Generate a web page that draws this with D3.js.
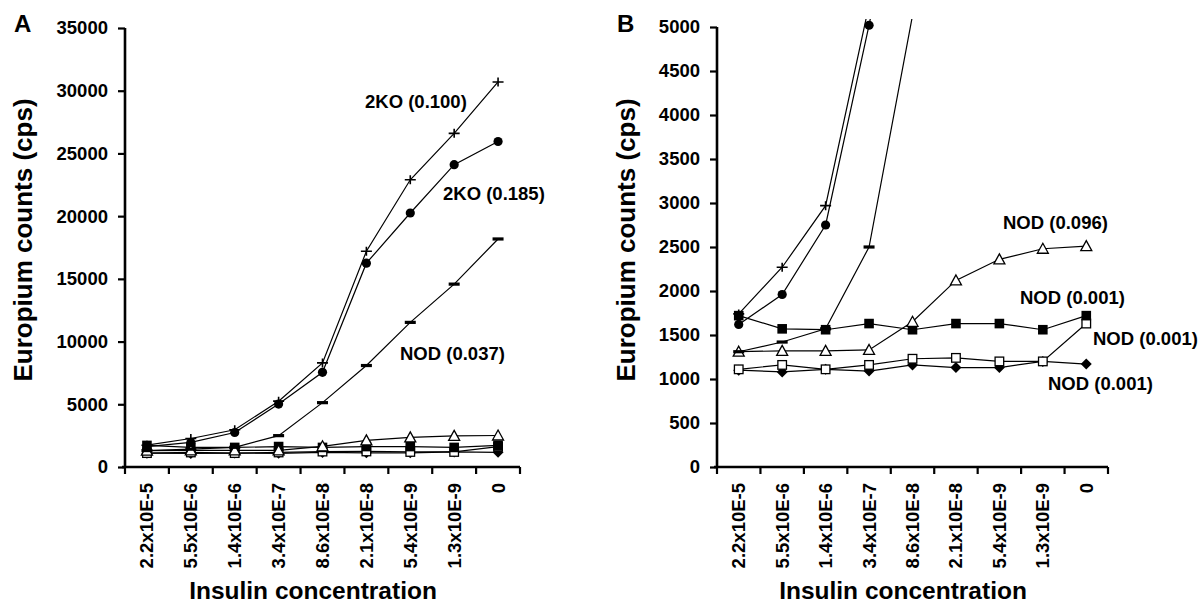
<!DOCTYPE html>
<html><head><meta charset="utf-8">
<script src="https://cdn.jsdelivr.net/npm/d3@7"></script>
<style>
body{margin:0;background:#fff;}
svg{display:block;font-family:"Liberation Sans",Arial,sans-serif;font-weight:bold;}
</style></head>
<body><svg id="c" width="1200" height="605"></svg>
<script>
const categories = ["2.2x10E-5","5.5x10E-6","1.4x10E-6","3.4x10E-7","8.6x10E-8","2.1x10E-8","5.4x10E-9","1.3x10E-9","0"];
const ko100   = [1740, 2270, 2970, 5250, 8300, 17200, 22900, 26600, 30700];
const ko185   = [1620, 1960, 2750, 5020, 7550, 16250, 20250, 24100, 25950];
const nod037  = [1310, 1420, 1570, 2500, 5130, 8090, 11530, 14580, 18180];
const nod096  = [1310, 1320, 1320, 1330, 1650, 2120, 2360, 2480, 2510];
const nod001a = [1720, 1570, 1560, 1630, 1560, 1630, 1630, 1560, 1720];
const nod001b = [1110, 1160, 1110, 1160, 1230, 1240, 1200, 1200, 1630];
const nod001c = [1100, 1080, 1110, 1090, 1160, 1130, 1130, 1200, 1170];
const ticksA = [0,5000,10000,15000,20000,25000,30000,35000];
const ticksB = [0,500,1000,1500,2000,2500,3000,3500,4000,4500,5000];

const series = [
  {v: nod001c, m: "diamond"},
  {v: nod001b, m: "osquare"},
  {v: nod001a, m: "fsquare"},
  {v: nod096,  m: "otri"},
  {v: nod037,  m: "dash"},
  {v: ko185,   m: "circle"},
  {v: ko100,   m: "plus"}
];

const svg = d3.select("#c");

function marker(g, type){
  switch(type){
    case "plus": g.append("path").attr("d","M-5.5,0H5.5M0,-4.5V4.5").attr("stroke","#000").attr("stroke-width",1.6).attr("fill","none"); break;
    case "circle": g.append("circle").attr("r",4.6).attr("fill","#000"); break;
    case "dash": g.append("rect").attr("x",-5.5).attr("y",-1.6).attr("width",11).attr("height",3.2).attr("fill","#000"); break;
    case "otri": g.append("path").attr("d","M0,-5.5L5.5,4.5H-5.5Z").attr("fill","#fff").attr("stroke","#000").attr("stroke-width",1.3); break;
    case "fsquare": g.append("rect").attr("x",-4.8).attr("y",-4.8).attr("width",9.6).attr("height",9.6).attr("fill","#000"); break;
    case "osquare": g.append("rect").attr("x",-4.3).attr("y",-4.3).attr("width",8.6).attr("height",8.6).attr("fill","#fff").attr("stroke","#000").attr("stroke-width",1.3); break;
    case "diamond": g.append("path").attr("d","M0,-5.5L5.5,0L0,5.5L-5.5,0Z").attr("fill","#000"); break;
  }
}

function panel(cfg){
  const x = d3.scaleBand().domain(categories).range([cfg.x0, cfg.x1]).paddingInner(0).paddingOuter(0);
  const y = d3.scaleLinear().domain([0, cfg.max]).range([cfg.y0, cfg.y1]);
  const cx = c => x(c) + x.bandwidth()/2;
  const root = svg.append("g");

  const clipId = "clip" + cfg.id;
  root.append("clipPath").attr("id", clipId).append("rect")
    .attr("x", cfg.x0 - 20).attr("y", cfg.y1 - 8)
    .attr("width", cfg.x1 - cfg.x0 + 40).attr("height", cfg.y0 - cfg.y1 + 30);
  const plot = root.append("g").attr("clip-path", `url(#${clipId})`);

  const line = d3.line().x((d,i)=>cx(categories[i])).y(d=>y(d));
  series.forEach(s=>{
    plot.append("path").datum(s.v).attr("d", line)
      .attr("fill","none").attr("stroke","#000").attr("stroke-width",1.2);
  });
  series.forEach(s=>{
    s.v.forEach((d,i)=>{
      const g = plot.append("g").attr("transform",`translate(${cx(categories[i])},${y(d)})`);
      marker(g, s.m);
    });
  });

  // y axis
  const ya = root.append("g").attr("transform",`translate(${cfg.x0},0)`)
    .call(d3.axisLeft(y).tickValues(cfg.ticks).tickSize(7).tickPadding(10).tickFormat(d3.format("d")));
  ya.select(".domain").attr("stroke-width",2.6).attr("d",`M0,${cfg.y0}V${cfg.y1}`);
  ya.selectAll(".tick line").attr("stroke-width",2.2);
  ya.selectAll(".tick text").attr("font-size",18.5).attr("font-family","Liberation Sans, Arial").attr("font-weight","bold").attr("fill","#000");

  // x axis
  const xa = root.append("g").attr("transform",`translate(0,${cfg.y0})`)
    .call(d3.axisBottom(x).tickSize(0).tickPadding(0));
  xa.select(".domain").attr("stroke-width",2.6).attr("d",`M${cfg.x0-3},0H${cfg.x1}`);
  xa.selectAll(".tick text")
    .attr("font-size",18.5).attr("font-family","Liberation Sans, Arial").attr("font-weight","bold").attr("fill","#000")
    .attr("text-anchor","end").attr("transform","rotate(-90)")
    .attr("x",-16).attr("y",0).attr("dy","0.35em");
  const bounds = categories.map(c=>x(c)).concat([cfg.x1]);
  xa.selectAll(".bt").data(bounds).enter().append("line")
    .attr("x1",d=>d).attr("x2",d=>d).attr("y1",0).attr("y2",7)
    .attr("stroke","#000").attr("stroke-width",2.2);

  // titles
  root.append("text").attr("transform",`translate(${cfg.ytx},240) rotate(-90)`)
    .attr("text-anchor","middle").attr("font-size",26).text("Europium counts (cps)");
  root.append("text").attr("x",cfg.xtx).attr("y",599)
    .attr("text-anchor","middle").attr("font-size",24.5).text("Insulin concentration");
  root.append("text").attr("x",cfg.lx).attr("y",32).attr("font-size",24).text(cfg.letter);

  cfg.labels.forEach(l=>{
    root.append("text").attr("x",l[1]).attr("y",l[2]).attr("font-size",18.5).text(l[0]);
  });
}

panel({id:"A", x0:125, x1:520, y0:467, y1:28, max:35000, ticks:ticksA, ytx:32, xtx:313, lx:14, letter:"A",
  labels:[["2KO (0.100)",365,108],["2KO (0.185)",443,200],["NOD (0.037)",400,360]]});
panel({id:"B", x0:717, x1:1108, y0:467, y1:27, max:5000, ticks:ticksB, ytx:635, xtx:903, lx:617, letter:"B",
  labels:[["NOD (0.096)",1003,229],["NOD (0.001)",1020,304],["NOD (0.001)",1093,345],["NOD (0.001)",1048,390]]});
</script></body></html>
